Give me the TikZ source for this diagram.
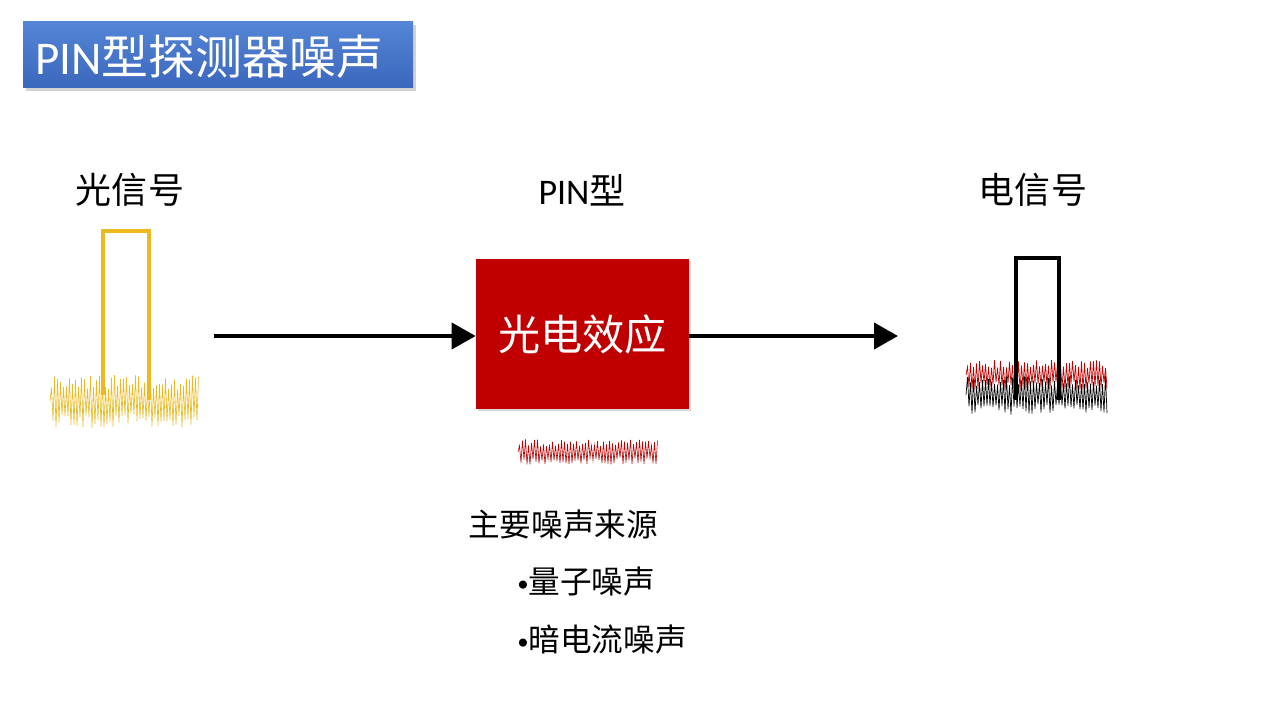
\documentclass[tikz,border=0pt]{standalone}
\usepackage{fontspec}
\setmainfont{Noto Sans CJK SC}
\newfontfamily\latinfont{Carlito}
\usetikzlibrary{calc,shadows,arrows.meta}
\definecolor{pulseyellow}{HTML}{EDB91F}
\definecolor{boxred}{HTML}{C00000}
\definecolor{titletop}{HTML}{5485D6}
\definecolor{titlebot}{HTML}{3B67BC}
\def\noiseband[#1](#2,#3)(#4:#5:#6){\draw[#1] (#2,#3) \foreach \i in {1,...,#4} { -- ({#2+\i*#5},{#3+(2*mod(\i,2)-1)*#6*(0.45+0.55*rnd)}) };}
\def\bulletmark{{\fontsize{13}{13}\latinfont\raisebox{0.1em}{•}}}

\begin{document}
\begin{tikzpicture}
			%%%%% START %%%%%
			\useasboundingbox[fill=white] (0, 0) rectangle (25.6, 14.4);
			\pgfmathsetseed{7}
			
			\node[top color=titletop, bottom color=titlebot, minimum width=7.8cm, minimum height=1.32cm, drop shadow={shadow xshift=0.05cm, shadow yshift=-0.06cm, opacity=0.35}] (title) at (4.36, 13.3) {};
			\node[anchor=west, text=white, font=\fontsize{26.7}{30}\selectfont, inner sep=0] (titletext) at (0.7, 13.26) {{\latinfont PIN}型探测器噪声};
			
			\node[font=\fontsize{20.5}{24}\selectfont] (light) at (2.6, 10.6) {光信号};
			\node[font=\fontsize{20.5}{24}\selectfont] (pin) at (11.64, 10.6) {{\latinfont PIN}型};
			\node[font=\fontsize{20.5}{24}\selectfont] (elec) at (20.66, 10.6) {电信号};
			
			\noiseband[line width=0.35pt, color=pulseyellow](1.0, 6.37)(99:0.03:0.53)
			\draw[line width=0.08cm, color=pulseyellow] (2.06, 6.5) -- (2.06, 9.78) -- (2.98, 9.78) -- (2.98, 6.4);
			
			\node[fill=boxred, minimum width=4.26cm, minimum height=3cm, text=white, font=\fontsize{24}{28}\selectfont, drop shadow={shadow xshift=0.04cm, shadow yshift=-0.05cm, opacity=0.3}] (effect) at (11.65, 7.72) {光电效应};
			
			\coordinate (in) at (4.28, 7.68);
			\coordinate (out) at (17.96, 7.68);
			\draw[line width=0.08cm, -{Triangle[length=0.48cm, width=0.52cm]}] (in) -- (in -| effect.west);
			\draw[line width=0.08cm, -{Triangle[length=0.48cm, width=0.52cm]}] (out -| effect.east) -- (out);
			
			\noiseband[line width=0.35pt, color=boxred](10.36, 5.36)(93:0.03:0.25)
			
			\noiseband[line width=0.4pt, color=black](19.32, 6.5)(94:0.03:0.4)
			\noiseband[line width=0.4pt, color=boxred](19.32, 6.9)(94:0.03:0.3)
			\draw[line width=0.08cm] (20.32, 6.4) -- (20.32, 9.24) -- (21.18, 9.24) -- (21.18, 6.4);
			
			\node[anchor=west, font=\fontsize{18}{22}\selectfont, inner sep=0] (sources) at (9.36, 3.9) {主要噪声来源};
			\node[anchor=west, font=\fontsize{18}{22}\selectfont, inner sep=0] (quantum) at (10.34, 2.76) {\bulletmark 量子噪声};
			\node[anchor=west, font=\fontsize{18}{22}\selectfont, inner sep=0] (dark) at (10.34, 1.6) {\bulletmark 暗电流噪声};
			
			%%%%% END %%%%%
\end{tikzpicture}
\end{document}
